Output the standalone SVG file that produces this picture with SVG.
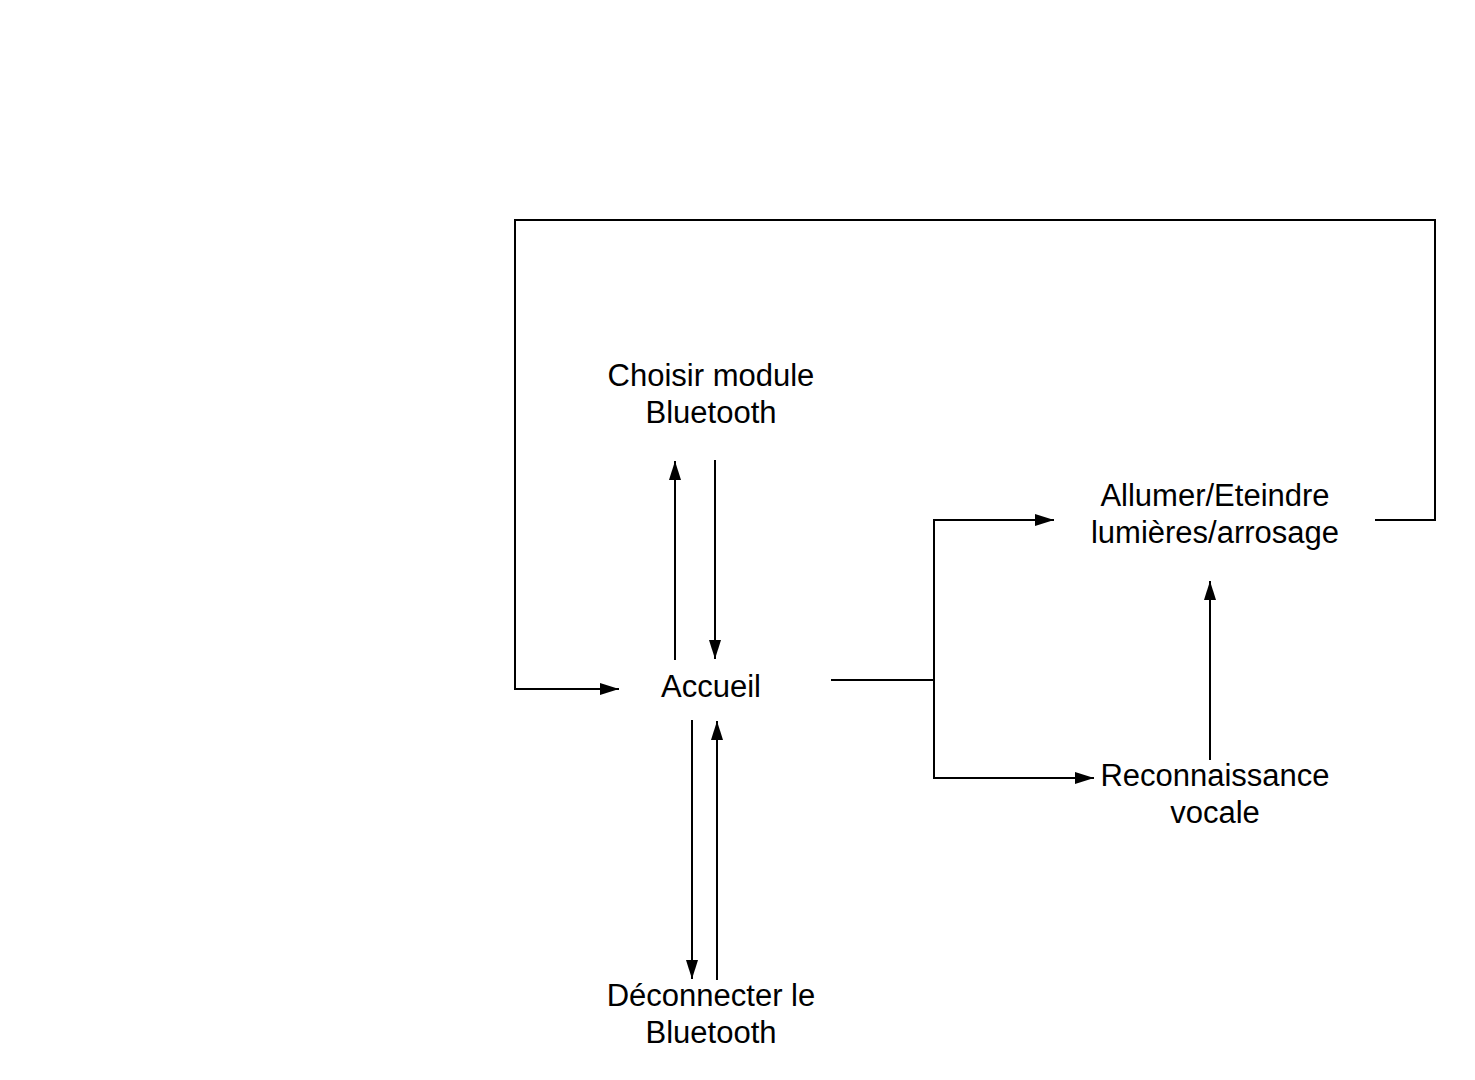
<svg xmlns="http://www.w3.org/2000/svg" width="1475" height="1080" viewBox="0 0 1475 1080">
<style>
.lbl{font-family:"Liberation Sans",Arial,sans-serif;font-size:31px;fill:#000;text-anchor:middle}
.e{fill:none;stroke:#000;stroke-width:2}
</style>
<defs>
<marker id="arr" markerUnits="userSpaceOnUse" markerWidth="20" markerHeight="12" viewBox="0 0 20 12" refX="19" refY="6" orient="auto">
<path d="M0,0 L19,6 L0,12 Z" fill="#000"/>
</marker>
</defs>
<rect width="1475" height="1080" fill="#fff"/>
<g id="connectors">
<path class="e" d="M675,660 V461" marker-end="url(#arr)"/>
<path class="e" d="M715,460 V659" marker-end="url(#arr)"/>
<path class="e" d="M1375,520 H1435 V220 H515 V689 H619" marker-end="url(#arr)"/>
<path class="e" d="M831,680 H934 V520 H1054" marker-end="url(#arr)"/>
<path class="e" d="M934,680 V778 H1094" marker-end="url(#arr)"/>
<path class="e" d="M1210,760 V581" marker-end="url(#arr)"/>
<path class="e" d="M692,720 V979" marker-end="url(#arr)"/>
<path class="e" d="M717,980 V721" marker-end="url(#arr)"/>
</g>
<g id="choisir"><text class="lbl" x="711" y="386">Choisir module</text><text class="lbl" x="711" y="423">Bluetooth</text></g>
<g id="accueil"><text class="lbl" x="711" y="697">Accueil</text></g>
<g id="allumer"><text class="lbl" x="1215" y="506">Allumer/Eteindre</text><text class="lbl" x="1215" y="543">lumières/arrosage</text></g>
<g id="reconnaissance"><text class="lbl" x="1215" y="786">Reconnaissance</text><text class="lbl" x="1215" y="823">vocale</text></g>
<g id="deconnecter"><text class="lbl" x="711" y="1006">Déconnecter le</text><text class="lbl" x="711" y="1043">Bluetooth</text></g>
</svg>
